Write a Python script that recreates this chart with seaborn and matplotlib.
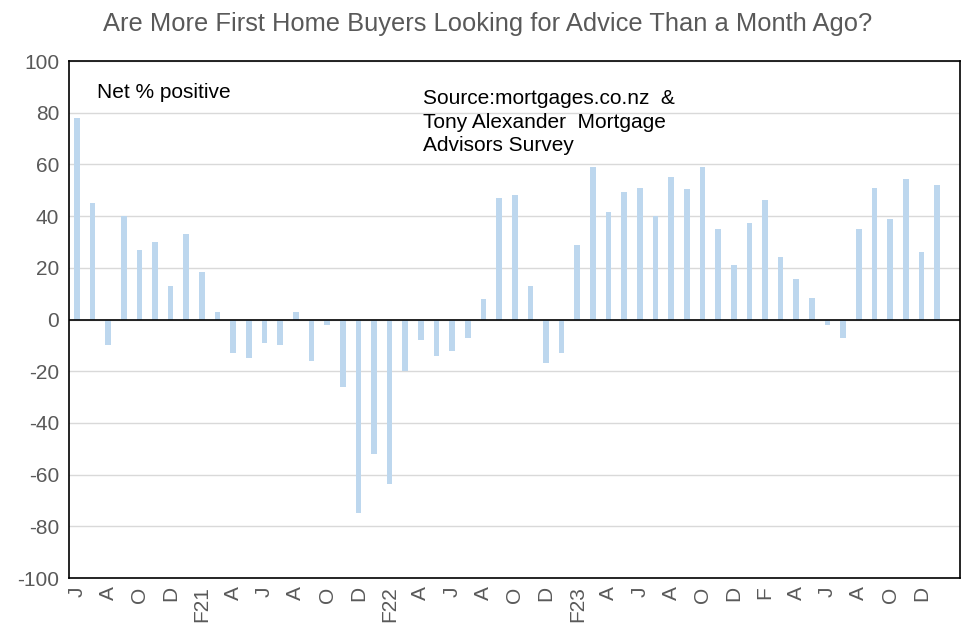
import numpy as np
import pandas as pd
import matplotlib
matplotlib.use("Agg")
import matplotlib.pyplot as plt
import seaborn as sns

# ---- data ----
months = pd.date_range("2020-06-01", periods=57, freq="MS").strftime("%Y-%m").tolist()
values = [78, 45, -10, 40, 27, 30, 13, 33, 18.5, 3,
          -13, -15, -9, -10, 3, -16, -2, -26, -75, -52,
          -63.5, -20, -8, -14, -12, -7, 8, 47, 48, 13,
          -17, -13, 29, 59, 41.6, 49.4, 51, 40, 55, 50.5,
          59, 35, 21, 37.4, 46.3, 24, 15.5, 8.5, -2, -7,
          35, 51, 39, 54.5, 26, 52, np.nan]
tick_labels = ["J", "A", "O", "D", "F21", "A", "J", "A", "O", "D",
               "F22", "A", "J", "A", "O", "D", "F23", "A", "J", "A",
               "O", "D", "F", "A", "J", "A", "O", "D"]
title = "Are More First Home Buyers Looking for Advice Than a Month Ago?"
note = "Net % positive"
source = "Source:mortgages.co.nz  &\nTony Alexander  Mortgage\nAdvisors Survey"

df = pd.DataFrame({"month": months, "value": values})

sns.set_theme(style="white")
plt.rcParams["font.family"] = ["Liberation Sans", "DejaVu Sans"]
plt.rcParams["axes.unicode_minus"] = False

fig = plt.figure(figsize=(9.76, 6.37), dpi=100)
ax = fig.add_axes([0.0707, 0.0926, 0.9134, 0.8116])

sns.barplot(data=df, x="month", y="value", order=months, color="#BDD7EE",
            saturation=1, width=0.36, ax=ax, errorbar=None, linewidth=0,
            edgecolor="none")

ax.set_ylim(-100, 100)
ax.set_yticks(np.arange(-100, 101, 20))
ax.set_xlim(-0.5, len(months) - 0.5)
ax.set_xticks(np.arange(0, len(tick_labels) * 2, 2))
ax.set_xticklabels(tick_labels, rotation=90, fontsize=15, color="#595959")
ax.tick_params(axis="y", labelsize=15, labelcolor="#595959", length=0, pad=7)
ax.tick_params(axis="x", length=0, pad=6)
ax.set_xlabel("")
ax.set_ylabel("")

ax.yaxis.grid(True, color="#D9D9D9", linewidth=1)
ax.set_axisbelow(True)
ax.axhline(0, color="black", linewidth=1.2, zorder=3)
for s in ax.spines.values():
    s.set_visible(True)
    s.set_color("black")
    s.set_linewidth(1.2)

fig.text(0.5, 0.962, title, ha="center", va="center", fontsize=18.4, color="#595959")
ax.text(0.031, 0.94, note, transform=ax.transAxes, fontsize=15, color="black",
        ha="left", va="center")
ax.text(0.397, 0.945, source, transform=ax.transAxes, fontsize=15, color="black",
        ha="left", va="top", linespacing=1.3)

fig.savefig("out.png", dpi=100)
